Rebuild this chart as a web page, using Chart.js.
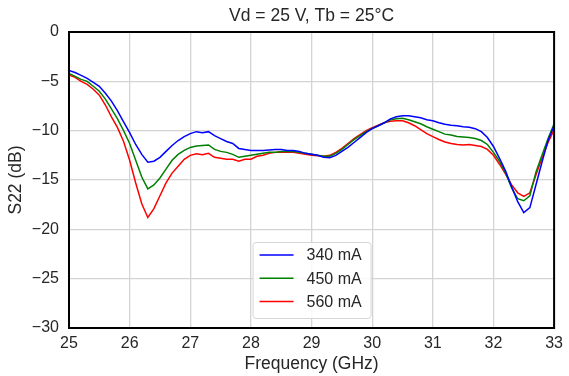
<!DOCTYPE html>
<html>
<head>
<meta charset="utf-8">
<script src="https://cdn.jsdelivr.net/npm/chart.js@4"></script>
<style>
  html, body { margin: 0; padding: 0; background: #fff; }
  #wrap { width: 569px; height: 376px; }
</style>
</head>
<body>
<div id="wrap"><canvas id="s22Chart" width="569" height="376"></canvas></div>
<script>
// frequency points (GHz)
const freq = [
  25.0,25.1,25.2,25.3,25.4,25.5,25.6,25.7,25.8,25.9,
  26.0,26.1,26.2,26.3,26.4,26.5,26.6,26.7,26.8,26.9,
  27.0,27.1,27.2,27.3,27.4,27.5,27.6,27.7,27.8,27.9,
  28.0,28.1,28.2,28.3,28.4,28.5,28.6,28.7,28.8,28.9,
  29.0,29.1,29.2,29.3,29.4,29.5,29.6,29.7,29.8,29.9,
  30.0,30.1,30.2,30.3,30.4,30.5,30.6,30.7,30.8,30.9,
  31.0,31.1,31.2,31.3,31.4,31.5,31.6,31.7,31.8,31.9,
  32.0,32.1,32.2,32.3,32.4,32.5,32.6,32.7,32.8,32.9,
  33.0
];

// S22 (dB) per drain current
const s22_340 = [
  -3.9,-4.1,-4.4,-4.7,-5.1,-5.5,-6.2,-7.0,-8.0,-9.1,
  -10.2,-11.4,-12.4,-13.2,-13.1,-12.7,-12.1,-11.5,-11.0,-10.6,
  -10.3,-10.1,-10.2,-10.1,-10.5,-10.8,-11.1,-11.3,-11.8,-11.9,
  -12.0,-12.0,-12.0,-11.95,-11.9,-11.9,-12.0,-12.0,-12.1,-12.3,
  -12.4,-12.5,-12.7,-12.75,-12.5,-12.1,-11.7,-11.2,-10.7,-10.2,
  -9.8,-9.5,-9.2,-8.8,-8.6,-8.5,-8.5,-8.6,-8.7,-8.9,
  -9.0,-9.2,-9.35,-9.45,-9.5,-9.6,-9.65,-9.8,-10.1,-10.7,
  -11.6,-12.8,-14.1,-15.7,-17.2,-18.3,-17.8,-15.5,-13.2,-11.0,
  -9.5
];
const s22_450 = [
  -4.2,-4.5,-4.8,-5.0,-5.5,-6.0,-6.8,-7.8,-8.8,-10.0,
  -11.3,-13.0,-14.7,-15.9,-15.5,-14.8,-13.9,-13.0,-12.4,-12.0,
  -11.7,-11.55,-11.5,-11.45,-11.9,-12.1,-12.2,-12.4,-12.7,-12.6,
  -12.5,-12.4,-12.3,-12.2,-12.2,-12.1,-12.1,-12.1,-12.2,-12.3,
  -12.4,-12.5,-12.6,-12.6,-12.3,-11.9,-11.4,-10.9,-10.5,-10.1,
  -9.8,-9.5,-9.2,-8.9,-8.8,-8.75,-8.9,-9.1,-9.3,-9.6,
  -9.85,-10.1,-10.35,-10.45,-10.6,-10.65,-10.7,-10.8,-11.0,-11.4,
  -12.2,-13.1,-14.3,-15.8,-16.9,-17.1,-16.6,-14.2,-12.5,-10.8,
  -9.3
];
const s22_560 = [
  -4.35,-4.6,-5.0,-5.3,-5.8,-6.4,-7.4,-8.6,-9.7,-11.1,
  -13.0,-15.3,-17.4,-18.8,-17.9,-16.6,-15.3,-14.3,-13.6,-12.9,
  -12.5,-12.35,-12.45,-12.3,-12.7,-12.8,-12.9,-12.9,-13.1,-12.9,
  -12.9,-12.6,-12.5,-12.3,-12.2,-12.15,-12.2,-12.2,-12.3,-12.4,
  -12.5,-12.55,-12.6,-12.5,-12.2,-11.8,-11.3,-10.8,-10.4,-10.0,
  -9.7,-9.45,-9.2,-9.05,-9.0,-9.0,-9.2,-9.5,-9.9,-10.3,
  -10.6,-10.9,-11.15,-11.3,-11.4,-11.45,-11.4,-11.5,-11.6,-11.9,
  -12.5,-13.4,-14.4,-15.5,-16.3,-16.65,-16.3,-14.5,-12.8,-11.2,
  -9.9
];

const seriesLabels = ["340 mA", "450 mA", "560 mA"];
const seriesColors = ["#0000ff", "#008000", "#ff0000"];
const seriesData = [s22_340, s22_450, s22_560];

const FONT = "'Liberation Sans', Arial, sans-serif";
const TEXT = "#262626";

// title, frame and legend drawn by hand so they sit like the original
const framePlugin = {
  id: "frame",
  afterDraw(chart){
    const {ctx, chartArea: a} = chart;
    ctx.save();
    // title centred over the plot area
    ctx.fillStyle = TEXT;
    ctx.font = "17.5px " + FONT;
    ctx.textAlign = "center";
    ctx.textBaseline = "middle";
    ctx.fillText("Vd = 25 V, Tb = 25°C", (a.left + a.right) / 2, 16);

    // black box round the axes
    ctx.strokeStyle = "#000";
    ctx.lineWidth = 2;
    ctx.strokeRect(a.left, a.top, a.right - a.left, a.bottom - a.top);

    // legend box
    const w = 118, h = 76;
    const x0 = (a.left + a.right) / 2 - w / 2;
    const y0 = a.bottom - 10 - h;
    ctx.fillStyle = "rgba(255,255,255,0.85)";
    ctx.strokeStyle = "#d6d6d6";
    ctx.lineWidth = 1;
    ctx.beginPath();
    ctx.roundRect(x0 + 0.5, y0 + 0.5, w, h, 3);
    ctx.fill();
    ctx.stroke();
    ctx.font = "16px " + FONT;
    ctx.textAlign = "left";
    chart.data.datasets.forEach((ds, i) => {
      const yy = y0 + 13 + i * 23.3;
      ctx.strokeStyle = ds.borderColor;
      ctx.lineWidth = 1.5;
      ctx.beginPath();
      ctx.moveTo(x0 + 7, yy);
      ctx.lineTo(x0 + 41, yy);
      ctx.stroke();
      ctx.fillStyle = TEXT;
      ctx.fillText(ds.label, x0 + 54, yy + 1);
    });
    ctx.restore();
  }
};

const ctx = document.getElementById("s22Chart").getContext("2d");
new Chart(ctx, {
  type: "line",
  data: {
    datasets: seriesData.map((vals, i) => ({
      label: seriesLabels[i],
      data: vals.map((v, j) => ({x: freq[j], y: v})),
      borderColor: seriesColors[i],
      borderWidth: 1.5,
      pointRadius: 0,
      tension: 0,
      fill: false
    }))
  },
  options: {
    responsive: false,
    animation: false,
    layout: { padding: { top: 32, right: 12, left: 0, bottom: 0 } },
    scales: {
      x: {
        type: "linear",
        min: 25, max: 33,
        afterFit: s => { s.height = 48; },
        grid: { color: "#d4d4d4", lineWidth: 1.3, drawTicks: false },
        border: { display: false },
        ticks: { stepSize: 1, padding: 6, color: TEXT, font: { size: 16, family: FONT } },
        title: { display: true, text: "Frequency (GHz)", color: TEXT,
                 font: { size: 17.5, family: FONT }, padding: { top: 0, bottom: 1 } }
      },
      y: {
        min: -30, max: 0,
        afterFit: s => { s.width = 69; },
        grid: { color: "#d4d4d4", lineWidth: 1.3, drawTicks: false },
        border: { display: false },
        ticks: { stepSize: 5, padding: 10, color: TEXT, font: { size: 16, family: FONT },
                 callback: v => String(v).replace("-", "\u2212") },
        title: { display: true, text: "S22 (dB)", color: TEXT,
                 font: { size: 17.5, family: FONT }, padding: { top: 6, bottom: 0 } }
      }
    },
    plugins: { legend: { display: false }, title: { display: false }, tooltip: { enabled: false } }
  },
  plugins: [framePlugin]
});
</script>
</body>
</html>
